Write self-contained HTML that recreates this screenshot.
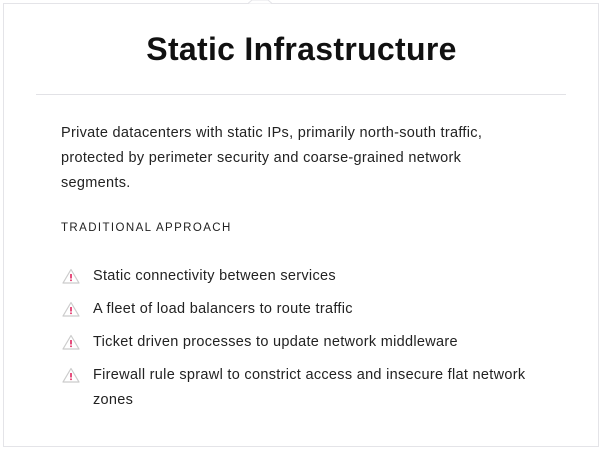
<!DOCTYPE html>
<html><head><style>
body{margin:0;width:603px;height:451px;background:#fff;font-family:"Liberation Sans",sans-serif;position:relative;overflow:hidden}
.card{position:absolute;left:3px;top:3px;width:594px;height:442px;border:1px solid #e4e4e8;background:#fff}
h1{position:absolute;top:31px;left:0;width:603px;text-align:center;margin:0;font-size:32px;font-weight:bold;color:#111;letter-spacing:0.3px}
.hr{position:absolute;left:36px;top:94px;width:530px;height:1px;background:#e2e2e6}
.p{position:absolute;left:61px;top:121px;width:440px;font-size:14.5px;line-height:25px;color:#222;letter-spacing:0.3px}
.h{position:absolute;left:61px;top:222px;font-size:11.5px;letter-spacing:1.4px;color:#222}
.li{position:absolute;left:93px;width:450px;font-size:14.5px;line-height:25px;color:#222;letter-spacing:0.3px}
svg{position:absolute;left:62px}
</style></head><body>
<div class="card"></div>
<svg style="left:240px;top:0" width="40" height="5"><path d="M0 3.5 L8 3.5 L12 0 L28 0 L32 3.5 L40 3.5" fill="#fff" stroke="#e4e4e8"/></svg>
<h1>Static Infrastructure</h1>
<div class="hr"></div>
<div class="p">Private datacenters with static IPs, primarily north-south traffic, protected by perimeter security and coarse-grained network segments.</div>
<div class="h">TRADITIONAL APPROACH</div>
<svg style="top:268px" width="18" height="16"><path d="M9 1.5 L17 15 L1 15 Z" fill="none" stroke="#ccc" stroke-width="1.2" stroke-linejoin="round"/><rect x="8.2" y="6" width="1.6" height="4.5" fill="#e0245e"/><rect x="8.2" y="11.5" width="1.6" height="1.6" fill="#e0245e"/></svg>
<svg style="top:301px" width="18" height="16"><path d="M9 1.5 L17 15 L1 15 Z" fill="none" stroke="#ccc" stroke-width="1.2" stroke-linejoin="round"/><rect x="8.2" y="6" width="1.6" height="4.5" fill="#e0245e"/><rect x="8.2" y="11.5" width="1.6" height="1.6" fill="#e0245e"/></svg>
<svg style="top:334px" width="18" height="16"><path d="M9 1.5 L17 15 L1 15 Z" fill="none" stroke="#ccc" stroke-width="1.2" stroke-linejoin="round"/><rect x="8.2" y="6" width="1.6" height="4.5" fill="#e0245e"/><rect x="8.2" y="11.5" width="1.6" height="1.6" fill="#e0245e"/></svg>
<svg style="top:367px" width="18" height="16"><path d="M9 1.5 L17 15 L1 15 Z" fill="none" stroke="#ccc" stroke-width="1.2" stroke-linejoin="round"/><rect x="8.2" y="6" width="1.6" height="4.5" fill="#e0245e"/><rect x="8.2" y="11.5" width="1.6" height="1.6" fill="#e0245e"/></svg>
<div class="li" style="top:264px">Static connectivity between services</div>
<div class="li" style="top:297px">A fleet of load balancers to route traffic</div>
<div class="li" style="top:330px">Ticket driven processes to update network middleware</div>
<div class="li" style="top:363px">Firewall rule sprawl to constrict access and insecure flat network zones</div>
</body></html>
